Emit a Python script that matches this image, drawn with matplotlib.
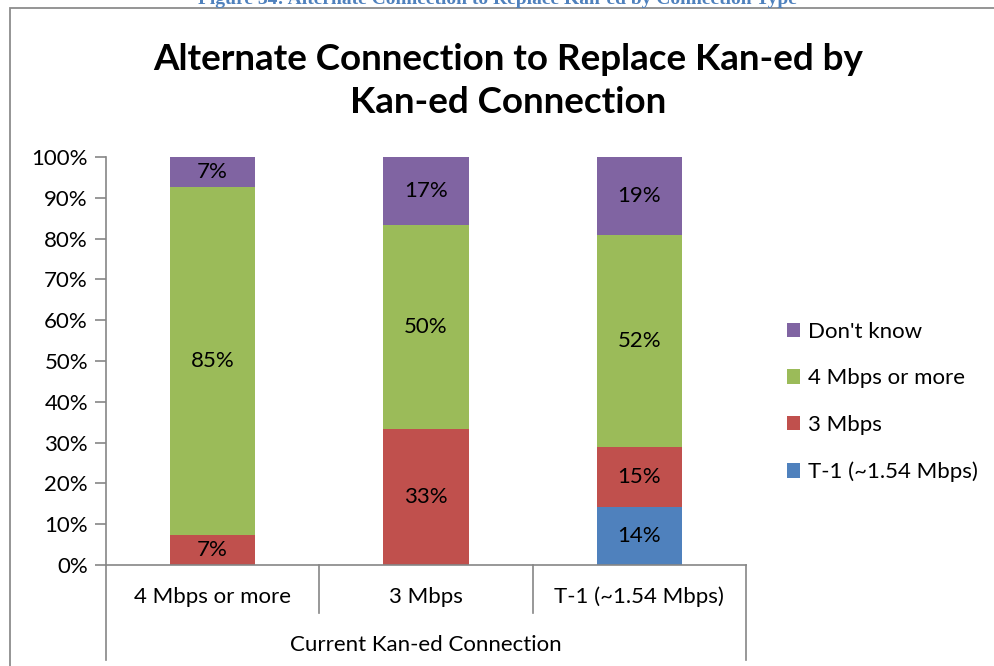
import matplotlib
matplotlib.use("Agg")
from matplotlib import pyplot as plt
from matplotlib.patches import Rectangle
import numpy as np

categorias = ["4 Mbps or more", "3 Mbps", "T-1 (~1.54 Mbps)"]
series = ["T-1 (~1.54 Mbps)", "3 Mbps", "4 Mbps or more", "Don't know"]
t1 = [0.0, 0.0, 14.3]
tres_mbps = [7.4, 33.3, 14.7]
cuatro_mbps = [85.2, 50.0, 52.0]
no_sabe = [7.4, 16.7, 19.0]
colores = ["#4F81BD", "#C0504D", "#9BBB59", "#8064A2"]

titulo = "Alternate Connection to Replace Kan-ed by\nKan-ed Connection"
eje_x = "Current Kan-ed Connection"
leyenda_fig = "Figure 34: Alternate Connection to Replace Kan-ed by Connection Type"

plt.rcParams["font.family"] = ["Lato", "DejaVu Sans"]
W, H = 994, 666
fig = plt.figure(figsize=(W / 100, H / 100), dpi=100)
gris = "#868686"
fs = 16

# marco del grafico
fig.patches.append(Rectangle((10 / W, -0.2), 2, (H - 8) / H + 0.2, transform=fig.transFigure,
                             fill=False, edgecolor="#8c8c8c", linewidth=1.3))
fig.text(0.5, 1 - 4 / H, leyenda_fig, ha="center", va="baseline", fontsize=14,
         fontweight="bold", color="#4F81BD", family=["Liberation Serif", "DejaVu Serif"])

ax = fig.add_axes([106 / W, (H - 565) / H, (746 - 106) / W, (565 - 157) / H])
x = np.arange(len(categorias))
base = np.zeros(len(categorias))
for nombre, valores, color in zip(series, [t1, tres_mbps, cuatro_mbps, no_sabe], colores):
    valores = np.array(valores)
    ax.bar(x, valores, 0.4, bottom=base, color=color, label=nombre)
    for xi, b, v in zip(x, base, valores):
        if v > 0:
            ax.text(xi, b + v / 2, f"{round(v)}%", ha="center", va="center", fontsize=fs)
    base = base + valores

ax.set_xlim(-0.5, 2.5)
ax.set_ylim(0, 100)
ax.set_yticks(range(0, 101, 10))
ax.set_yticklabels([f"{t}%" for t in range(0, 101, 10)], fontsize=fs)
ax.tick_params(axis="y", length=8, color=gris, width=1.2, pad=5)
ax.set_xticks([])
for lado in ["top", "right"]:
    ax.spines[lado].set_visible(False)
for lado in ["left", "bottom"]:
    ax.spines[lado].set_color(gris)
    ax.spines[lado].set_linewidth(1.2)

# eje de categorias en dos niveles (estilo Excel)
tr = ax.get_xaxis_transform()
ax.plot([-0.5, -0.5], [0, -95 / 408], transform=tr, color=gris, lw=1.2, clip_on=False)
ax.plot([2.5, 2.5], [0, -95 / 408], transform=tr, color=gris, lw=1.2, clip_on=False)
for sep in [0.5, 1.5]:
    ax.plot([sep, sep], [0, -48 / 408], transform=tr, color=gris, lw=1.2, clip_on=False)
for xi, cat in zip(x, categorias):
    ax.text(xi, -32 / 408, cat, transform=tr, ha="center", va="center", fontsize=fs)
ax.text(1, -80 / 408, eje_x, transform=tr, ha="center", va="center", fontsize=fs)

fig.text(508 / W, 1 - 81 / H, titulo, ha="center", va="center", fontsize=26.5,
         fontweight="bold", linespacing=1.4)

h, l = ax.get_legend_handles_labels()
fig.legend(h[::-1], l[::-1], loc="center left", bbox_to_anchor=(767 / W, 1 - 402 / H),
           frameon=False, fontsize=fs, handlelength=0.6, handleheight=0.6,
           handletextpad=0.35, labelspacing=1.2)

fig.savefig("out.png", dpi=100)
